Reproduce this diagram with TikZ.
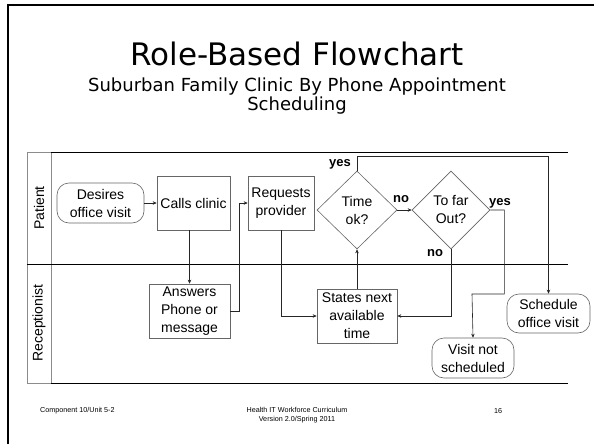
\documentclass[tikz,border=0pt]{standalone}
\usepackage{fontspec}
\setmainfont{Liberation Sans}
\newfontfamily\slidefont{DejaVu Sans}
\usetikzlibrary{shapes.geometric,arrows.meta}
\begin{document}
\begin{tikzpicture}[x=1pt,y=-1pt,
  box/.style={draw=black!60, line width=0.6pt, fill=white, inner sep=0pt, align=center,
              font=\fontsize{14}{18}\selectfont},
  term/.style={box, rounded corners=12pt},
  dec/.style={box, diamond},
  conn/.style={draw=black!85, line width=0.6pt},
  arr/.style={conn, -{Stealth[length=4pt,width=3.5pt]}},
  lab/.style={inner sep=0pt, font=\bfseries\fontsize{13}{15}\selectfont},
  lane/.style={rotate=90, inner sep=0pt, font=\fontsize{14}{16}\selectfont},
  foot/.style={inner sep=0pt, align=center, font=\fontsize{7.2}{8.5}\selectfont}
]
\useasboundingbox (0,0) rectangle (594,444);
% slide border
\draw[line width=2.3pt] (8,444) -- (8,5) -- (594,5);
% titles
\node[font=\slidefont\fontsize{31}{36}\selectfont] (title) at (297,54) {Role-Based Flowchart};
\node[font=\slidefont\fontsize{18}{16}\selectfont, align=center] (sub) at (297,96)
  {Suburban Family Clinic By Phone Appointment\\Scheduling};
% swimlanes
\draw[black!45, line width=0.6pt] (27,152) rectangle (51,383);
\draw[line width=0.7pt] (51,152) -- (568,152);
\draw[line width=0.7pt] (27,264) -- (568,264);
\draw[line width=0.7pt] (51,383) -- (568,383);
\node[lane] (patient) at (39,208) {Patient};
\node[lane] (recep) at (39,323) {Receptionist};
% nodes
\node[term, minimum width=87pt, minimum height=40pt] (desires) at (100.5,203) {Desires\\office visit};
\node[box, minimum width=73pt, minimum height=54pt] (calls) at (193.5,203) {Calls clinic};
\node[box, minimum width=66pt, minimum height=54pt] (requests) at (281,203) {Requests\\provider};
\node[dec, minimum width=80pt, minimum height=78pt] (time) at (357,210) {Time\\ok?};
\node[dec, minimum width=78pt, minimum height=78pt] (far) at (451,210) {To far\\Out?};
\node[box, minimum width=81pt, minimum height=54pt] (answers) at (189.5,311) {Answers\\Phone or\\message};
\node[box, minimum width=80pt, minimum height=54pt] (states) at (357,316) {States next\\available\\time};
\node[term, minimum width=82pt, minimum height=40pt] (visit) at (473,358) {Visit not\\scheduled};
\node[term, minimum width=83pt, minimum height=39pt] (sched) at (548.5,313.5) {Schedule\\office visit};
% connectors
\draw[arr] (desires.east) -- (calls.west);
\draw[arr] (calls.south -| answers.north) -- (answers.north);
\draw[arr] (answers.east) -- ++(9,0) |- (requests.west);
\draw[arr] (requests.south) |- (states.west);
\draw[arr] (states.north) -- (time.south);
\draw[arr] (time.east) -- (far.west);
\draw[arr] (time.north) -- ++(0,-14) -| (sched.north);
\draw[arr] (far.east) -- ++(14,0) |- (472,294) -- (visit.north);
\draw[arr] (far.south) |- (states.east);
% labels
\node[lab] (yes1) at (340,164) {yes};
\node[lab] (no1) at (401,199) {no};
\node[lab] (yes2) at (500,203) {yes};
\node[lab] (no2) at (435,253) {no};
% footer
\node[foot, anchor=west] (f1) at (40,411) {Component 10/Unit 5-2};
\node[foot] (f2) at (297,415) {Health IT Workforce Curriculum\\Version 2.0/Spring 2011};
\node[foot] (f3) at (498,411) {16};
\end{tikzpicture}
\end{document}
